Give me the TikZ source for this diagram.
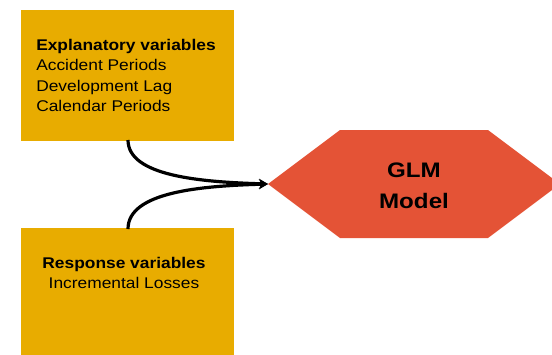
\documentclass[tikz,border=0pt]{standalone}
\usepackage{fontspec}
\setmainfont{Liberation Sans}
\newfontfamily\boxfont[FakeStretch=1.12]{Liberation Sans}
\newfontfamily\hexfont[FakeStretch=1.15]{Liberation Sans}
\usetikzlibrary{arrows.meta}
\definecolor{boxgold}{RGB}{232,172,0}
\definecolor{hexred}{RGB}{228,83,54}
\tikzset{
  varbox/.style={fill=boxgold, draw=none, inner sep=0pt, anchor=north west},
  boxtext/.style={font=\boxfont\fontsize{15.5}{20.5}\selectfont, align=left, inner sep=0pt},
  flow/.style={line width=3.2pt, -{Stealth[length=9pt,width=10pt]}},
}
\begin{document}
\begin{tikzpicture}[x=1pt,y=-1pt]
\useasboundingbox (0,0) rectangle (552,354);
% input boxes
\node[varbox, minimum width=213pt, minimum height=131pt] (expl) at (21,10) {};
\node[varbox, minimum width=213pt, minimum height=140pt] (resp) at (21,228) {};
\node[boxtext] (expltext) at (126,75.5)
  {\textbf{Explanatory variables}\\Accident Periods\\Development Lag\\Calendar Periods};
\node[boxtext, align=center] (resptext) at (124,273)
  {\textbf{Response variables}\\Incremental Losses};
% model hexagon
\fill[hexred] (268,184) -- (340,130) -- (488,130) -- (560,184) -- (488,238) -- (340,238) -- cycle;
\coordinate (glmtip) at (268,184);
\node[font=\hexfont\bfseries\fontsize{21}{31}\selectfont, align=center, inner sep=0pt] (glm) at (414,186) {GLM\\Model};
% connectors
\draw[flow] (128,140) .. controls (128,176) and (200,182) .. (glmtip);
\draw[flow] (128,229) .. controls (128,192) and (200,186) .. (glmtip);
\end{tikzpicture}
\end{document}
